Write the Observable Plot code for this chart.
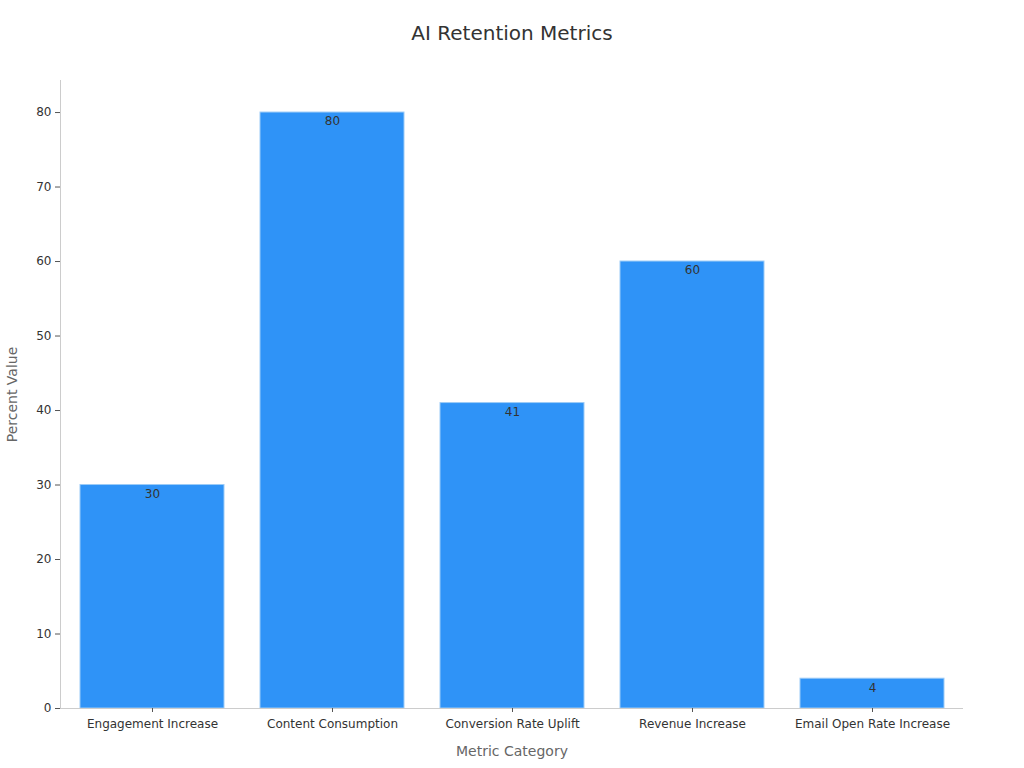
<!DOCTYPE html>
<html>
<head>
<meta charset="utf-8">
<script src="https://cdn.jsdelivr.net/npm/d3@7"></script>
<script src="https://cdn.jsdelivr.net/npm/@observablehq/plot@0.6"></script>
<style>
  body { margin: 0; background: #fff; font-family: "DejaVu Sans", sans-serif; }
  #title { height: 64px; line-height: 66px; text-align: center; font-size: 20px; color: #333; }
  svg { display: block; }
</style>
</head>
<body>
<div id="title">AI Retention Metrics</div>
<div id="chart"></div>
<script>
const categories = ["Engagement Increase", "Content Consumption", "Conversion Rate Uplift", "Revenue Increase", "Email Open Rate Increase"];
const values = [30, 80, 41, 60, 4];
const yTicks = [0, 10, 20, 30, 40, 50, 60, 70, 80];

const data = categories.map((c, i) => ({category: c, value: values[i]}));

const chart = Plot.plot({
  width: 1024,
  height: 704,
  marginTop: 16,
  marginBottom: 60,
  marginLeft: 60,
  marginRight: 61,
  style: {fontFamily: "DejaVu Sans, sans-serif", fontSize: "12px", color: "#333", background: "#fff"},
  x: {domain: categories, paddingInner: 0.2, paddingOuter: 0.1, label: null},
  y: {domain: [0, 84.3], label: null},
  marks: [
    Plot.barY(data, {x: "category", y: "value", fill: "#2f93f7", stroke: "#9ccbf7", strokeWidth: 1}),
    Plot.text(data, {x: "category", y: "value", text: d => String(d.value), dy: 9, fill: "#333", fontSize: 12}),
    Plot.frame({anchor: "left", stroke: "#ccc"}),
    Plot.ruleY([0], {stroke: "#ccc"}),
    Plot.axisY({ticks: yTicks, tickSize: 5, tickPadding: 4, stroke: "#555", fill: "#333", fontSize: 12, label: null}),
    Plot.axisX({tickSize: 4, tickPadding: 7, stroke: "#555", fill: "#333", fontSize: 12, label: null}),
    Plot.text(["Percent Value"], {frameAnchor: "left", textAnchor: "middle", dx: -48, rotate: -90, fill: "#666", fontSize: 14}),
    Plot.text(["Metric Category"], {frameAnchor: "bottom", dy: 47, fill: "#666", fontSize: 14})
  ]
});
document.getElementById("chart").appendChild(chart);
</script>
</body>
</html>
